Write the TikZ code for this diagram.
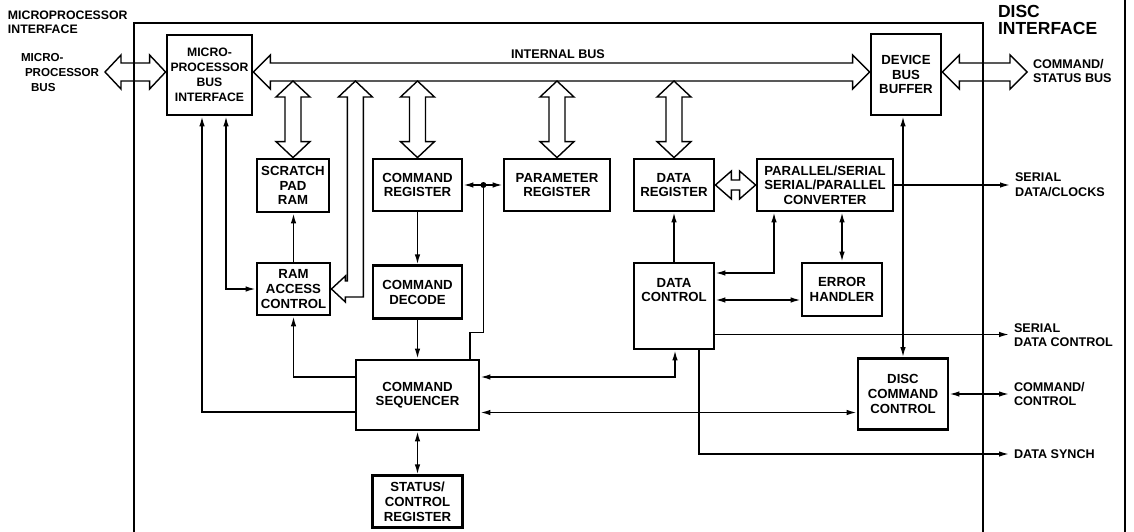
\documentclass[tikz,border=0pt]{standalone}
\usepackage{fontspec}
\setmainfont{Liberation Sans}
\usetikzlibrary{arrows.meta,positioning,calc}

\tikzset{
  blk/.style={draw, line width=2.8pt, align=center, inner sep=0pt, minimum width=80pt, minimum height=52pt, font=\fontsize{13.2}{14.6}\selectfont\bfseries},
  lbl/.style={align=left, anchor=west, inner sep=0pt, outer sep=5pt, font=\fontsize{12.6}{14.6}\selectfont\bfseries},
  sig/.style={line width=1.5pt, >={Latex[length=10pt,width=5.5pt]}},
  bus/.style={line width=1.4pt},
  frame/.style={line width=1.5pt}
}

\newcommand{\fatH}[5]{%
  \draw[bus] let \p1=(#1), \p2=(#2) in
    (\x1,\y1) -- (\x1+#5,\y1+#4) -- (\x1+#5,\y1+#3) -- (\x2-#5,\y1+#3)
    -- (\x2-#5,\y1+#4) -- (\x2,\y1) -- (\x2-#5,\y1-#4) -- (\x2-#5,\y1-#3)
    -- (\x1+#5,\y1-#3) -- (\x1+#5,\y1-#4) -- cycle;}
\newcommand{\fatV}[5]{%
  \draw[bus] let \p1=(#1), \p2=(#2) in
    (\x2,\y1) -- (\x2+#4,\y1-#5) -- (\x2+#3,\y1-#5) -- (\x2+#3,\y2+#5)
    -- (\x2+#4,\y2+#5) -- (\x2,\y2) -- (\x2-#4,\y2+#5) -- (\x2-#3,\y2+#5)
    -- (\x2-#3,\y1-#5) -- (\x2-#4,\y1-#5) -- cycle;}

\begin{document}
\begin{tikzpicture}[x=1pt, y=-1pt]
  \useasboundingbox (0,0) rectangle (1134,532);

  \draw[frame] (134,532) |- (983,23) -- (983,532);
  \draw[frame] (1125,0) -- (1125,532);

  \node[lbl, outer sep=0pt, font=\fontsize{12.3}{14}\selectfont\bfseries] (mpif) at (8,22) {MICROPROCESSOR\\INTERFACE};
  \node[lbl, outer sep=0pt, font=\fontsize{17.5}{17}\selectfont\bfseries] (dif) at (998,20) {DISC\\INTERFACE};
  \node[lbl, outer sep=0pt, font=\fontsize{11.6}{15}\selectfont\bfseries] (mpbus) at (21,73) {MICRO-\\\hspace*{4pt}PROCESSOR\\\hspace*{10pt}BUS};
  \node[lbl, outer sep=0pt, anchor=center] (ibus) at (558,54) {INTERNAL BUS};

  \node[blk, minimum width=85pt, minimum height=80pt, font=\fontsize{12.2}{14.8}\selectfont\bfseries] (mpu) at (209.5,75) {MICRO-\\PROCESSOR\\BUS\\INTERFACE};
  \node[blk, minimum width=70pt, minimum height=81pt] (dbb) at (906,74.5) {DEVICE\\BUS\\BUFFER};
  \node[blk, minimum width=72pt, minimum height=53pt] (sp) at (293,185.5) {SCRATCH\\PAD\\RAM};
  \node[blk, minimum width=73pt] (rac) at (293.5,289) {RAM\\ACCESS\\CONTROL};
  \node[blk, minimum width=89pt] (cr) at (417.5,185) {COMMAND\\REGISTER};
  \node[blk, minimum width=106pt] (pr) at (557,185) {PARAMETER\\REGISTER};
  \node[blk] (dr) at (674,185) {DATA\\REGISTER};
  \node[blk, minimum width=136pt] (psc) at (825,185) {PARALLEL/SERIAL\\SERIAL/PARALLEL\\CONVERTER};
  \node[blk, minimum width=89pt, minimum height=53pt, below=52pt of cr] (cd) {COMMAND\\DECODE};
  \node[blk, minimum height=86pt, text depth=32pt] (dc) at (674,306) {DATA\\CONTROL};
  \node[blk, minimum height=53pt] (eh) at (842,289.5) {ERROR\\HANDLER};
  \node[blk, minimum width=123pt, minimum height=70pt] (cs) at (417.5,395) {COMMAND\\SEQUENCER};
  \node[blk, minimum width=90pt, below=43pt of cs] (scr) {STATUS/\\CONTROL\\REGISTER};
  \node[blk, minimum width=90pt, minimum height=71pt] (dcc) at (903,394) {DISC\\COMMAND\\CONTROL};

  \node[lbl] (csb) at (1028,71) {COMMAND/\\STATUS BUS};
  \node[lbl] (sdclk) at (1010,185) {SERIAL\\DATA/CLOCKS};
  \node[lbl] (sdctl) at (1009,335) {SERIAL\\DATA CONTROL};
  \node[lbl] (cmdctl) at (1009,394) {COMMAND/\\CONTROL};
  \node[lbl] (dsynch) at (1009,454) {DATA SYNCH};

  \coordinate (mpin) at (105,72);
  \coordinate (csout) at (1027,72);
  \coordinate (busbot) at ([yshift=-6pt]mpu.east);
  \fatH{mpin}{mpu.west}{9pt}{17pt}{16pt}
  \fatH{[yshift=3pt]mpu.east}{dbb.west}{9pt}{17pt}{17pt}
  \fatH{[yshift=2.5pt]dbb.east}{csout}{9pt}{17pt}{17pt}
  \fatH{dr.east}{psc.west}{5pt}{14pt}{16pt}
  \fatV{busbot}{sp.north}{8pt}{17pt}{16pt}
  \fatV{busbot}{cr.north}{8pt}{17pt}{16pt}
  \fatV{busbot}{pr.north}{8pt}{17pt}{16pt}
  \fatV{busbot}{dr.north}{8pt}{17pt}{16pt}
  \draw[bus] let \p1=(rac.east), \p2=(busbot) in
    (\x1,\y1) -- (\x1+14pt,\y1+13pt) -- (\x1+14pt,\y1+8pt) -- (\x1+16pt,\y1+8pt)
    -- (\x1+16pt,\y2-16pt) -- (\x1+7pt,\y2-16pt) -- (\x1+24pt,\y2) -- (\x1+41pt,\y2-16pt)
    -- (\x1+32pt,\y2-16pt) -- (\x1+32pt,\y1-8pt) -- (\x1+14pt,\y1-8pt) -- (\x1+14pt,\y1-13pt) -- cycle;

  \draw[sig,->] ([yshift=-17pt]cs.west) -| ([xshift=-7.5pt]mpu.south);
  \draw[sig,<->] ([xshift=16.5pt]mpu.south) |- (rac.west);
  \draw[sig,->] (rac.north) -- (rac.north |- sp.south);
  \draw[sig,->] ([yshift=18pt]cs.west) -| (rac.south);
  \draw[sig,->] (cr) -- (cd);
  \draw[sig,->] (cd) -- (cs);
  \draw[sig,<->] (cr.east) -- (pr.west);
  \coordinate (jn) at ([xshift=20pt]cr.east);
  \fill (jn) circle (3pt);
  \draw[sig] (jn) |- ([xshift=52.5pt,yshift=26pt]cs.north) -- ([xshift=52.5pt]cs.north);
  \draw[sig,->] (dc) -- (dr);
  \draw[sig,<->] ([xshift=-51pt]psc.south) |- ([yshift=33pt]dc.east);
  \draw[sig,<->] (psc.south -| eh.north) -- (eh.north);
  \draw[sig,<->] ([yshift=6pt]dc.east) -- ([yshift=-10.5pt]eh.west);
  \draw[sig,<->] ([yshift=18pt]cs.east) -| ([xshift=1pt]dc.south);
  \draw[sig,<->] ([yshift=-17.5pt]cs.east) -- ([yshift=-18.5pt]dcc.west);
  \draw[sig,<->] (cs) -- (scr);
  \draw[sig,<->] (dcc.north |- dbb.south) -- (dcc.north);

  \coordinate (dcsd) at ([yshift=-28.5pt]dc.east);
  \draw[sig,->] (psc.east) -- (psc.east -| sdclk.west);
  \draw[sig,->] (dcsd) -- (dcsd -| sdctl.west);
  \draw[sig,<->] (dcc.east) -- (dcc.east -| cmdctl.west);
  \draw[sig,->] ([xshift=25pt]dc.south) |- (dsynch.west);
\end{tikzpicture}
\end{document}
